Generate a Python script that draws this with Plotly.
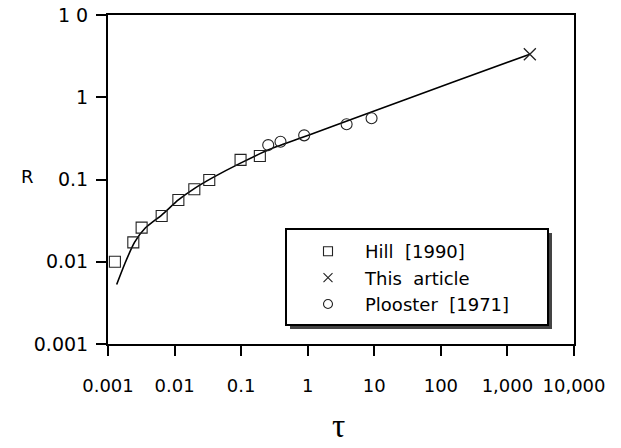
import plotly.graph_objects as go

# ---- data ----
hill_tau = [0.00127, 0.0024, 0.0032, 0.0064, 0.0114, 0.0198, 0.0332, 0.098, 0.191]
hill_R = [0.0100, 0.0172, 0.026, 0.036, 0.0564, 0.076, 0.0986, 0.173, 0.193]

plooster_tau = [0.255, 0.39, 0.885, 3.84, 9.1]
plooster_R = [0.262, 0.288, 0.344, 0.469, 0.555]

article_tau = [2170]
article_R = [3.33]

curve_tau = [0.00135, 0.0018, 0.0025, 0.0036, 0.0064, 0.0114, 0.020, 0.038, 0.096, 0.27, 1.0, 4.8, 150, 2170]
curve_R = [0.0053, 0.0096, 0.0172, 0.0255, 0.037, 0.0564, 0.078, 0.106, 0.157, 0.233, 0.343, 0.546, 1.52, 3.33]

x_tickvals = [0.001, 0.01, 0.1, 1, 10, 100, 1000, 10000]
x_ticktext = ["0.001", "0.01", "0.1", "1", "10", "100", "1,000", "10,000"]
y_tickvals = [0.001, 0.01, 0.1, 1, 10]
y_ticktext = ["0.001", "0.01", "0.1", "1", "1 0"]

legend_names = ["Hill  [1990]", "This  article", "Plooster  [1971]"]

# ---- layout geometry (page pixels) ----
W, H = 621, 448
L, R_, T, B = 108, 574, 15, 344
pw, ph = R_ - L, B - T


def px(x):
    return (x - L) / pw


def py(y):
    return (B - y) / ph


FONT = "DejaVu Sans"
fig = go.Figure()

fig.add_trace(go.Scatter(x=curve_tau, y=curve_R, mode="lines",
                         line=dict(color="black", width=1.6, shape="spline", smoothing=0.6),
                         showlegend=False, hoverinfo="skip"))
fig.add_trace(go.Scatter(x=hill_tau, y=hill_R, mode="markers",
                         marker=dict(symbol="square-open", size=11, color="#222", line=dict(width=1.1)),
                         showlegend=False))
fig.add_trace(go.Scatter(x=plooster_tau, y=plooster_R, mode="markers",
                         marker=dict(symbol="circle-open", size=11, color="#222", line=dict(width=1.1)),
                         showlegend=False))
fig.add_trace(go.Scatter(x=article_tau, y=article_R, mode="markers",
                         marker=dict(symbol="x-thin-open", size=12, color="#222", line=dict(width=1.3)),
                         showlegend=False))

# legend entries (smaller symbols, as in the reference)
for name, sym in zip(legend_names, ["square-open", "x-thin-open", "circle-open"]):
    fig.add_trace(go.Scatter(x=[None], y=[None], mode="markers", name=name,
                             marker=dict(symbol=sym, size=9, color="#222", line=dict(width=1.1))))

# legend box with drop shadow
shapes = [
    dict(type="rect", xref="paper", yref="paper", layer="above",
         x0=px(290), x1=px(552), y0=py(329), y1=py(233),
         fillcolor="#444", line=dict(width=0)),
    dict(type="rect", xref="paper", yref="paper", layer="above",
         x0=px(286), x1=px(548), y0=py(325), y1=py(229),
         fillcolor="white", line=dict(color="black", width=2)),
]

annotations = [
    dict(text="R", xref="paper", yref="paper", x=px(27), y=py(176),
         xanchor="center", yanchor="middle",
         showarrow=False, font=dict(family=FONT, size=18, color="black")),
    dict(text="τ", xref="paper", yref="paper", x=px(338), y=py(426),
         xanchor="center", yanchor="middle",
         showarrow=False, font=dict(family="Liberation Serif", size=33, color="black")),
]

fig.update_layout(
    width=W, height=H,
    margin=dict(l=L, r=W - R_, t=T, b=H - B, pad=0, autoexpand=False),
    paper_bgcolor="white", plot_bgcolor="white",
    font=dict(family=FONT, size=18, color="black"),
    shapes=shapes, annotations=annotations,
    legend=dict(x=px(291), y=py(233), xanchor="left", yanchor="top",
                bgcolor="rgba(0,0,0,0)", borderwidth=0,
                itemwidth=64, tracegroupgap=0,
                font=dict(family=FONT, size=18, color="black")),
)

fig.update_xaxes(type="log", range=[-3, 4], tickvals=x_tickvals, ticktext=x_ticktext,
                 automargin=False, ticklabeloverflow="allow",
                 showgrid=False, zeroline=False, showline=True, linecolor="black", linewidth=2,
                 mirror=True, ticks="outside", ticklen=10, tickwidth=1.5, tickcolor="black",
                 ticklabelstandoff=14, tickfont=dict(family=FONT, size=18))
fig.update_yaxes(type="log", range=[-3, 1], tickvals=y_tickvals, ticktext=y_ticktext,
                 automargin=False, ticklabeloverflow="allow",
                 showgrid=False, zeroline=False, showline=True, linecolor="black", linewidth=2,
                 mirror=True, ticks="outside", ticklen=10, tickwidth=1.5, tickcolor="black",
                 ticklabelstandoff=4, tickfont=dict(family=FONT, size=19))

# remove the default 8px page margin so the figure fills the window exactly
fig.write_html("out.html", config={"displayModeBar": False},
               post_script="document.body.style.margin='0';")
